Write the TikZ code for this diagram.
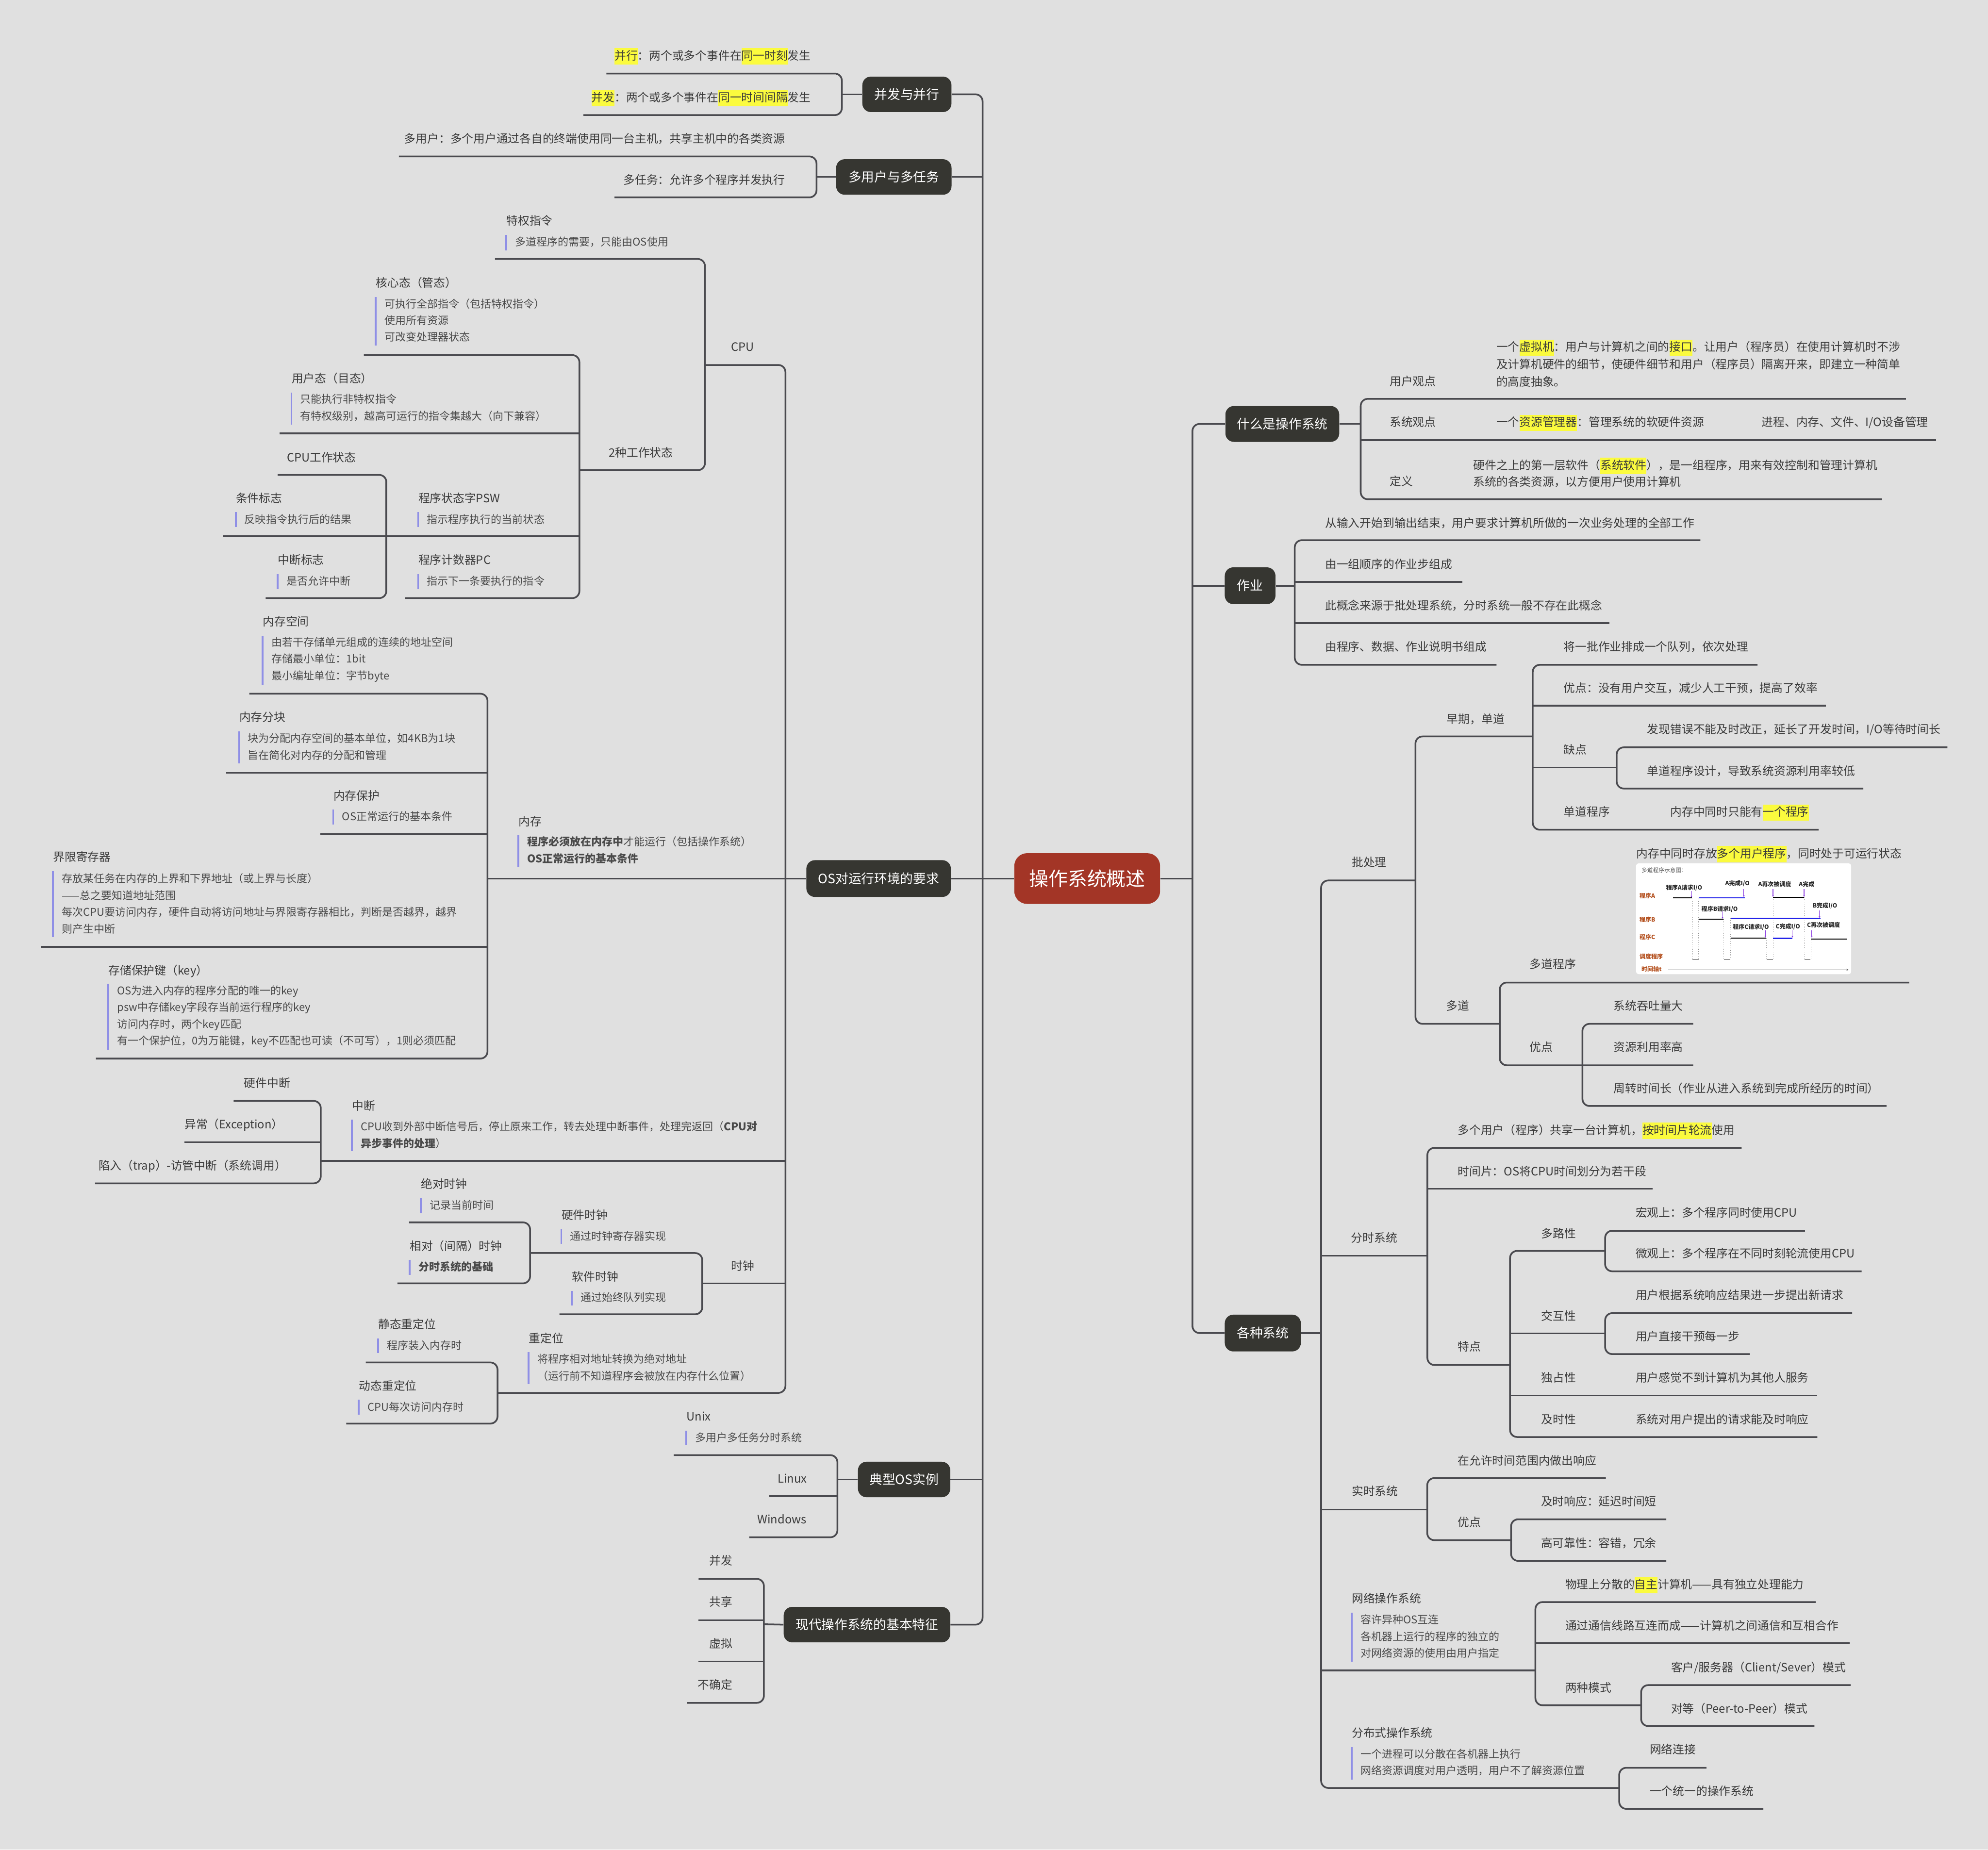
\documentclass[tikz,border=0pt]{standalone}
\usepackage{fontspec}
\setmainfont{Noto Sans CJK SC}
\usetikzlibrary{arrows.meta}
\definecolor{bg}{HTML}{E0E0E0}
\definecolor{lnc}{HTML}{4A4A4F}
\definecolor{txc}{HTML}{3A3A3A}
\definecolor{dsc}{HTML}{4A4A4A}
\definecolor{barc}{HTML}{8F8FE6}
\definecolor{boxc}{HTML}{363631}
\definecolor{rootc}{HTML}{A33526}
\definecolor{hly}{HTML}{FBFB3E}
\definecolor{brn}{HTML}{B4501E}
\definecolor{blu}{HTML}{2323E8}
\definecolor{pur}{HTML}{8A3BE0}
\newcommand\unitpx{0.03128cm}
\newcommand\hl[1]{{\setlength{\fboxsep}{0pt}\colorbox{hly}{\rule[-0.4em]{0pt}{1.4em}#1}}}
\newcommand\tn[4]{\node[t] (#1) at (#2,#3) {#4};}
\newcommand\tnE[4]{\node[t, anchor=east] (#1) at (#2,#3) {#4};}
\newcommand\ti[8]{\node[t] (#1) at (#2,#3) {#4};\draw[bar] (#2,#5) -- (#2,#6);\node[d] (#1d) at ({#2+6.8},#7) {#8};}
\newcommand\bx[6]{\node[box, minimum width={#4*\unitpx}, minimum height={#5*\unitpx}] (#1) at (#2,#3) {#6};}
\tikzset{
  ln/.style={draw=lnc, line width=1.2pt, rounded corners=5pt},
  t/.style={inner sep=0pt, anchor=west, text=txc, font=\fontsize{8.1}{10}\selectfont, text height=7.3pt, text depth=1.1pt},
  tm/.style={inner sep=0pt, anchor=west, text=txc, align=left, font=\fontsize{8.1}{12.3}\selectfont},
  tmb/.style={inner sep=0pt, anchor=west, text=txc, align=left, font=\fontsize{8.1}{11.8}\selectfont},
  d/.style={inner sep=0pt, anchor=west, align=left, text=dsc, font=\fontsize{7.5}{11.75}\selectfont},
  bar/.style={draw=barc, line width=1.3pt},
  box/.style={fill=boxc, rounded corners=6pt, text=white, font=\fontsize{9.1}{11}\selectfont, inner sep=0pt, text height=7.9pt, text depth=1.1pt},
  rootbox/.style={fill=rootc, rounded corners=9pt, text=white, font=\fontsize{13.6}{16}\selectfont, inner sep=0pt, text height=11.8pt, text depth=1.6pt},
  il/.style={inner sep=0pt, anchor=west, text=brn, font=\fontsize{4.1}{5}\selectfont\bfseries},
  ib/.style={inner sep=0pt, anchor=west, text=black!85, font=\fontsize{4.1}{5}\selectfont\bfseries},
  ig/.style={inner sep=0pt, anchor=west, text=black!70, font=\fontsize{4}{5}\selectfont},
  kl/.style={draw=black, line width=0.6pt},
  bl/.style={draw=blu, line width=0.85pt},
  dl/.style={draw=black!45, line width=0.25pt, densely dotted},
  pa/.style={draw=pur, line width=0.35pt, -{Stealth[length=1.3pt,width=1.2pt]}},
}
\begin{document}
\begin{tikzpicture}[x=0.03128cm,y=-0.03128cm]
\useasboundingbox (0,0) rectangle (1568,1459);
\fill[bg] (0,0) rectangle (1568,1459);

% ---------- root and main boxes ----------
\node[rootbox, minimum width={115*\unitpx}, minimum height={40*\unitpx}] (root) at (857.5,693) {操作系统概述};
\bx{bA}{715.3}{74.4}{70.3}{28}{并发与并行}
\bx{bB}{705}{139.6}{91}{28}{多用户与多任务}
\bx{bC}{693}{693}{114}{29}{OS对运行环境的要求}
\bx{bD}{713.1}{1167}{72.8}{28}{典型OS实例}
\bx{bE}{683.8}{1281.5}{131.4}{28}{现代操作系统的基本特征}
\bx{rW}{1011.4}{334.4}{89.8}{28.3}{什么是操作系统}
\bx{rJ}{986}{462}{40}{29}{作业}
\bx{rS}{996}{1051.5}{60}{29}{各种系统}

\draw[ln] (bA.east) -- (775,74.4) -- (775,1281.5) -- (bE.east);
\draw[ln] (bB.east) -- (775,139.6);
\draw[ln] (bC.east) -- (root.west);
\draw[ln] (bD.east) -- (775,1167);
\draw[ln] (rW.west) -- (940.5,334.4) -- (940.5,1051.5) -- (rS.west);
\draw[ln] (rJ.west) -- (940.5,462);
\draw[ln] (root.east) -- (940.5,693);

% ---------- 并发与并行 ----------
\tnE{a1}{639.7}{43.7}{\hl{并行}：两个或多个事件在\hl{同一时刻}发生}
\tnE{a2}{639.7}{76.7}{\hl{并发}：两个或多个事件在\hl{同一时间间隔}发生}
\draw[ln] (478.3,58) -- (664,58) -- (664,90.8) -- (460.2,90.8);
\draw[ln] (bA.west) -- (664,74.4);

% ---------- 多用户与多任务 ----------
\tnE{b1}{619.4}{109.2}{多用户：多个用户通过各自的终端使用同一台主机，共享主机中的各类资源}
\tnE{b2}{619.4}{141.7}{多任务：允许多个程序并发执行}
\draw[ln] (314.6,123.4) -- (644,123.4) -- (644,155.7) -- (484.7,155.7);
\draw[ln] (bB.west) -- (644,139.6);

% ---------- OS对运行环境的要求 ----------
\draw[ln] (556,287.9) -- (619.5,287.9) -- (619.5,1098.7) -- (392.4,1098.7);
\draw[ln] (384.5,693) -- (bC.west);
\draw[ln] (253,915.6) -- (619.5,915.6);
\draw[ln] (553.9,1012.3) -- (619.5,1012.3);

% CPU
\tnE{cpu}{595}{273.4}{CPU}
\draw[ln] (390.4,204.3) -- (556,204.3) -- (556,370.9) -- (457,370.9);
\ti{c1}{399.3}{174}{特权指令}{185.3}{197.6}{190.8}{多道程序的需要，只能由OS使用}
\tnE{c2}{531}{357}{2种工作状态}
\draw[ln] (287,280.1) -- (457,280.1) -- (457,471.8) -- (319.5,471.8);
\draw[ln] (220.5,341.9) -- (457,341.9);
\draw[ln] (176.1,422.9) -- (457,422.9);
\draw[ln] (219,374.6) -- (304.7,374.6) -- (304.7,471.8) -- (209.5,471.8);
\ti{c3}{296.4}{223}{核心态（管态）}{234.3}{272.4}{252.65}{可执行全部指令（包括特权指令）\\使用所有资源\\可改变处理器状态}
\ti{c4}{229.9}{298.5}{用户态（目态）}{309.7}{334.8}{321.45}{只能执行非特权指令\\有特权级别，越高可运行的指令集越大（向下兼容）}
\tnE{c5}{281}{360.7}{CPU工作状态}
\ti{c6}{185.9}{393}{条件标志}{404}{415.7}{409.6}{反映指令执行后的结果}
\ti{c7}{219}{441.6}{中断标志}{453}{464.7}{458.2}{是否允许中断}
\ti{c8}{329.8}{393}{程序状态字PSW}{404}{415.7}{409.6}{指示程序执行的当前状态}
\ti{c9}{329.8}{441.6}{程序计数器PC}{453}{464.7}{458.2}{指示下一条要执行的指令}

% 内存
\draw[ln] (196.6,547.2) -- (384.5,547.2) -- (384.5,835) -- (75.7,835);
\draw[ln] (178.4,609.6) -- (384.5,609.6);
\draw[ln] (252.8,658.1) -- (384.5,658.1);
\draw[ln] (32,746.8) -- (384.5,746.8);
\ti{m1}{207.1}{490.2}{内存空间}{501.5}{540.1}{520.25}{由若干存储单元组成的连续的地址空间\\存储最小单位：1bit\\最小编址单位：字节byte}
\ti{m2}{188.5}{565.4}{内存分块}{576.7}{602}{588.9}{块为分配内存空间的基本单位，如4KB为1块\\旨在简化对内存的分配和管理}
\ti{m3}{262.8}{627.6}{内存保护}{638.7}{650.5}{644.1}{OS正常运行的基本条件}
\ti{m4}{41.7}{675.8}{界限寄存器}{687.2}{739.2}{712.85}{存放某任务在内存的上界和下界地址（或上界与长度）\\——总之要知道地址范围\\每次CPU要访问内存，硬件自动将访问地址与界限寄存器相比，判断是否越界，越界\\则产生中断}
\ti{m5}{85.4}{765.2}{存储保护键（key）}{775.9}{827.9}{801.65}{OS为进入内存的程序分配的唯一的key\\psw中存储key字段存当前运行程序的key\\访问内存时，两个key匹配\\有一个保护位，0为万能键，key不匹配也可读（不可写），1则必须匹配}
\ti{m6}{408.9}{647.7}{内存}{658.8}{684.1}{670.65}{\textbf{程序必须放在内存中}才能运行（包括操作系统）\\\textbf{OS正常运行的基本条件}}

% 中断
\draw[ln] (184.3,868.4) -- (253,868.4) -- (253,933.4) -- (75,933.4);
\draw[ln] (145.4,900.9) -- (253,900.9);
\tnE{i1}{229.1}{854.1}{硬件中断}
\tnE{i2}{223.6}{886.8}{异常（Exception）}
\tnE{i3}{226}{919.3}{陷入（trap）-访管中断（系统调用）}
\ti{i0}{277.5}{872}{中断}{883.1}{908.2}{895.2}{CPU收到外部中断信号后，停止原来工作，转去处理中断事件，处理完返回（\textbf{CPU对}\\\textbf{异步事件的处理}）}

% 时钟
\draw[ln] (322.7,964.2) -- (418.1,964.2) -- (418.1,1012.3) -- (313.5,1012.3);
\draw[ln] (418.1,988.4) -- (553.9,988.4) -- (553.9,1036.7) -- (441.2,1036.7);
\ti{k1}{331.8}{933.9}{绝对时钟}{945}{956.9}{950.4}{记录当前时间}
\ti{k2}{323}{982.9}{相对（间隔）时钟}{993.6}{1005.5}{999}{\textbf{分时系统的基础}}
\ti{k3}{442.7}{958.3}{硬件时钟}{969.3}{981.1}{974.9}{通过时钟寄存器实现}
\ti{k4}{451.1}{1006.8}{软件时钟}{1018.3}{1029.9}{1023.3}{通过始终队列实现}
\tnE{k0}{595.3}{998.7}{时钟}

% 重定位
\draw[ln] (288.5,1074.7) -- (392.4,1074.7) -- (392.4,1122.9) -- (273.1,1122.9);
\ti{r1}{298.1}{1044.6}{静态重定位}{1055.6}{1067.3}{1061.1}{程序装入内存时}
\ti{r2}{283}{1093}{动态重定位}{1104.2}{1116}{1109.7}{CPU每次访问内存时}
\ti{r0}{417}{1055.6}{重定位}{1066.6}{1091.7}{1078.7}{将程序相对地址转换为绝对地址\\（运行前不知道程序会被放在内存什么位置）}

% ---------- 典型OS实例 ----------
\draw[ln] (531.4,1147.8) -- (660.5,1147.8) -- (660.5,1212.6) -- (590.9,1212.6);
\draw[ln] (606.8,1180.1) -- (660.5,1180.1);
\draw[ln] (bD.west) -- (660.5,1167);
\ti{o1}{541.3}{1117.3}{Unix}{1128.7}{1140.1}{1134}{多用户多任务分时系统}
\tnE{o2}{636.6}{1166.2}{Linux}
\tnE{o3}{636.3}{1198.4}{Windows}

% ---------- 现代操作系统的基本特征 ----------
\draw[ln] (551,1245.4) -- (602.5,1245.4) -- (602.5,1343.2) -- (541.8,1343.2);
\draw[ln] (551,1278) -- (602.5,1278);
\draw[ln] (551,1310.6) -- (602.5,1310.6);
\draw[ln] (bE.west) -- (602.5,1281.2);
\tnE{e1}{577.9}{1231}{并发}
\tnE{e2}{577.9}{1263.6}{共享}
\tnE{e3}{577.9}{1296.2}{虚拟}
\tnE{e4}{577.9}{1328.9}{不确定}

% ---------- 什么是操作系统 ----------
\draw[ln] (1503.2,314.6) -- (1073.2,314.6) -- (1073.2,393.8) -- (1484.4,393.8);
\draw[ln] (1073.2,347.2) -- (1527,347.2);
\draw[ln] (rW.east) -- (1073.2,334.4);
\tn{w1}{1095.9}{300.5}{用户观点}
\tn{w2}{1095.9}{333}{系统观点}
\tn{w3}{1095.9}{379.4}{定义}
\node[tm] (w1a) at (1180,286.65) {一个\hl{虚拟机}：用户与计算机之间的\hl{接口}。让用户（程序员）在使用计算机时不涉\\及计算机硬件的细节，使硬件细节和用户（程序员）隔离开来，即建立一种简单\\的高度抽象。};
\tn{w2a}{1180}{333}{一个\hl{资源管理器}：管理系统的软硬件资源}
\tn{w2b}{1389.3}{333}{进程、内存、文件、I/O设备管理}
\node[tmb] (w3a) at (1161.9,372.75) {硬件之上的第一层软件（\hl{系统软件}），是一组程序，用来有效控制和管理计算机\\系统的各类资源，以方便用户使用计算机};

% ---------- 作业 ----------
\draw[ln] (1341.1,426.1) -- (1021.2,426.1) -- (1021.2,524.4) -- (1180.3,524.4);
\draw[ln] (1021.2,459) -- (1153.4,459);
\draw[ln] (1021.2,491.6) -- (1269.4,491.6);
\draw[ln] (rJ.east) -- (1021.2,462);
\tn{j1}{1045}{412.3}{从输入开始到输出结束，用户要求计算机所做的一次业务处理的全部工作}
\tn{j2}{1045}{444.8}{由一组顺序的作业步组成}
\tn{j3}{1045}{477.6}{此概念来源于批处理系统，分时系统一般不存在此概念}
\tn{j4}{1045}{510.2}{由程序、数据、作业说明书组成}

% ---------- 各种系统 ----------
\draw[ln] (1116.4,694.5) -- (1042,694.5) -- (1042,1410.3) -- (1277.1,1410.3);
\draw[ln] (1042,990.6) -- (1125.8,990.6);
\draw[ln] (1042,1190.7) -- (1125.7,1190.7);
\draw[ln] (1042,1317.6) -- (1211,1317.6);
\draw[ln] (rS.east) -- (1042,1051.5);

% 批处理
\tn{s1}{1066}{680}{批处理}
\draw[ln] (1208.9,580.9) -- (1116.4,580.9) -- (1116.4,807.6) -- (1182.9,807.6);
\tn{s11}{1140.9}{567}{早期，单道}
\draw[ln] (1386.2,524.4) -- (1208.9,524.4) -- (1208.9,654.5) -- (1434.3,654.5);
\draw[ln] (1208.9,556.6) -- (1440,556.6);
\draw[ln] (1208.9,605.5) -- (1275.1,605.5);
\tn{s111}{1233.1}{510.2}{将一批作业排成一个队列，依次处理}
\tn{s112}{1233.1}{542.6}{优点：没有用户交互，减少人工干预，提高了效率}
\tn{s113}{1233.1}{591.3}{缺点}
\tn{s114}{1233.1}{640.2}{单道程序}
\tn{s1141}{1317.2}{640.2}{内存中同时只能有\hl{一个程序}}
\draw[ln] (1536,589.5) -- (1275.1,589.5) -- (1275.1,622) -- (1469.6,622);
\tn{s1131}{1299}{575.2}{发现错误不能及时改正，延长了开发时间，I/O等待时间长}
\tn{s1132}{1299}{608.1}{单道程序设计，导致系统资源利用率较低}

\tn{s12}{1140.4}{793.4}{多道}
\draw[ln] (1505.8,775) -- (1182.9,775) -- (1182.9,840.3) -- (1335.5,840.3);
\tn{s121}{1206.3}{760.6}{多道程序}
\tn{s122}{1206.3}{825.9}{优点}
\draw[ln] (1335.5,807.6) -- (1248.1,807.6) -- (1248.1,872.4) -- (1487.9,872.4);
\tn{s1221}{1272.6}{793.4}{系统吞吐量大}
\tn{s1222}{1272.6}{825.9}{资源利用率高}
\tn{s1223}{1272.6}{858.5}{周转时间长（作业从进入系统到完成所经历的时间）}

% 多道程序 caption and picture
\tn{s1211}{1290.4}{673}{内存中同时存放\hl{多个用户程序}，同时处于可运行状态}
\node[fill=white, rounded corners=2pt, inner sep=0pt, minimum width={169.7*\unitpx}, minimum height={87.4*\unitpx}] (img) at (1375.25,724.7) {};
\node[ig] (p0) at (1294.5,686.3) {多道程序示意图：};
\node[il] (pA) at (1292.9,706.8) {程序A};
\node[il] (pB) at (1292.9,725.2) {程序B};
\node[il] (pC) at (1292.9,739.1) {程序C};
\node[il] (pS) at (1292.9,754.3) {调度程序};
\node[il] (pT) at (1294.5,764.6) {时间轴t};
\node[ib] (q1) at (1313.9,700.2) {程序A请求I/O};
\node[ib] (q2) at (1360.5,697) {A完成I/O};
\node[ib] (q3) at (1386.5,697.5) {A再次被调度};
\node[ib] (q4) at (1418.6,697.5) {A完成};
\node[ib] (q5) at (1341.8,717) {程序B请求I/O};
\node[ib] (q6) at (1429.5,714.3) {B完成I/O};
\node[ib] (q7) at (1366.5,731.3) {程序C请求I/O};
\node[ib] (q8) at (1400.3,731.1) {C完成I/O};
\node[ib] (q9) at (1425,729.8) {C再次被调度};
\draw[dl] (1334.8,708.2) -- (1334.8,756.6);
\draw[dl] (1339.7,708.2) -- (1339.7,756.6);
\draw[dl] (1359.3,725) -- (1359.3,756.6);
\draw[dl] (1365,724.4) -- (1365,756.6);
\draw[dl] (1393.2,740.1) -- (1393.2,756.6);
\draw[dl] (1398.4,707.8) -- (1398.4,756.6);
\draw[dl] (1423.2,707.8) -- (1423.2,756.6);
\draw[dl] (1428.3,740.4) -- (1428.3,756.6);
\draw[kl] (1319.5,708.2) -- (1334.5,708.2);
\draw[kl] (1398.4,707.8) -- (1422.9,707.8);
\draw[kl] (1340.2,725) -- (1359.2,725);
\draw[kl] (1365.3,740.1) -- (1393.2,740.1);
\draw[kl] (1428.4,740.7) -- (1456.4,740.7);
\draw[kl] (1334.8,756.6) -- (1339.7,756.6);
\draw[kl] (1359.9,756.6) -- (1364.8,756.6);
\draw[kl] (1393.5,756.6) -- (1398.4,756.6);
\draw[kl] (1423.4,756.6) -- (1428,756.6);
\draw[bl] (1340,708.2) -- (1376.1,708.2);
\draw[bl] (1365.3,724.4) -- (1436,724.4);
\draw[bl] (1398.4,740.1) -- (1413.7,740.1);
\draw[pa] (1334.1,702.8) -- (1334.1,708);
\draw[pa] (1375.4,701.4) -- (1375.4,707.5);
\draw[pa] (1398.4,701.4) -- (1398.4,707.5);
\draw[pa] (1422.9,701.4) -- (1422.9,707.5);
\draw[pa] (1358.6,718.8) -- (1358.6,724.7);
\draw[pa] (1435.1,718.3) -- (1435.1,724.1);
\draw[pa] (1392.3,733.7) -- (1392.3,739.6);
\draw[pa] (1413.7,733.7) -- (1413.7,739.6);
\draw[pa] (1429,733.7) -- (1429,739.6);
\coordinate (ta) at (1315.7,765);
\coordinate (tb) at (1458,765);
\draw[draw=black!75, line width=0.35pt, -{Stealth[length=1.5pt,width=1.3pt]}] (ta) -- (tb);

% 分时系统
\tn{s2}{1065.4}{976.4}{分时系统}
\draw[ln] (1373.7,905.4) -- (1125.8,905.4) -- (1125.8,1076.7) -- (1191,1076.7);
\draw[ln] (1125.8,937.7) -- (1303.5,937.7);
\tn{s21}{1149.6}{891.2}{多个用户（程序）共享一台计算机，\hl{按时间片轮流}使用}
\tn{s22}{1149.6}{923.8}{时间片：OS将CPU时间划分为若干段}
\tn{s23}{1149.6}{1062}{特点}
\draw[ln] (1266,986.7) -- (1191,986.7) -- (1191,1133.5) -- (1433.4,1133.5);
\draw[ln] (1191,1051.7) -- (1266,1051.7);
\draw[ln] (1191,1100.7) -- (1433.4,1100.7);
\tn{s231}{1215.5}{972.7}{多路性}
\tn{s232}{1215.5}{1038.1}{交互性}
\tn{s233}{1215.5}{1086.5}{独占性}
\tn{s234}{1215.5}{1119.5}{及时性}
\draw[ln] (1423.6,970.8) -- (1266,970.8) -- (1266,1002.8) -- (1468.3,1002.8);
\tn{s2311}{1289.9}{956.3}{宏观上：多个程序同时使用CPU}
\tn{s2312}{1289.9}{988.6}{微观上：多个程序在不同时刻轮流使用CPU}
\draw[ln] (1460.8,1035.8) -- (1266,1035.8) -- (1266,1068.1) -- (1380.2,1068.1);
\tn{s2321}{1289.9}{1021.6}{用户根据系统响应结果进一步提出新请求}
\tn{s2322}{1289.9}{1054.2}{用户直接干预每一步}
\tn{s2331}{1289.9}{1086.5}{用户感觉不到计算机为其他人服务}
\tn{s2341}{1289.9}{1119.5}{系统对用户提出的请求能及时响应}

% 实时系统
\tn{s3}{1066}{1176.2}{实时系统}
\draw[ln] (1266.6,1165.9) -- (1125.7,1165.9) -- (1125.7,1214.9) -- (1191.8,1214.9);
\tn{s31}{1149.6}{1152}{在允许时间范围内做出响应}
\tn{s32}{1149.6}{1200.8}{优点}
\draw[ln] (1314.2,1198.4) -- (1191.8,1198.4) -- (1191.8,1231.2) -- (1314.2,1231.2);
\tn{s321}{1215.2}{1184.3}{及时响应：延迟时间短}
\tn{s322}{1215.2}{1217.2}{高可靠性：容错，冗余}

% 网络操作系统
\ti{s4}{1066}{1260.8}{网络操作系统}{1272}{1310.8}{1290.8}{容许异种OS互连\\各机器上运行的程序的独立的\\对网络资源的使用由用户指定}
\draw[ln] (1432,1263.7) -- (1211,1263.7) -- (1211,1345.1) -- (1294.4,1345.1);
\draw[ln] (1211,1296.2) -- (1458.7,1296.2);
\tn{s41}{1234.4}{1249.8}{物理上分散的\hl{自主}计算机——具有独立处理能力}
\tn{s42}{1234.4}{1282.1}{通过通信线路互连而成——计算机之间通信和互相合作}
\tn{s43}{1234.4}{1331.1}{两种模式}
\draw[ln] (1459.6,1329.2) -- (1294.4,1329.2) -- (1294.4,1361.5) -- (1431.1,1361.5);
\tn{s431}{1317.8}{1315}{客户/服务器（Client/Sever）模式}
\tn{s432}{1317.8}{1347.6}{对等（Peer-to-Peer）模式}

% 分布式操作系统
\ti{s5}{1066}{1366.9}{分布式操作系统}{1378}{1403.7}{1390.1}{一个进程可以分散在各机器上执行\\网络资源调度对用户透明，用户不了解资源位置}
\draw[ln] (1345.9,1394.4) -- (1277.1,1394.4) -- (1277.1,1426.8) -- (1390.8,1426.8);
\tn{s51}{1301}{1379.9}{网络连接}
\tn{s52}{1301}{1412.8}{一个统一的操作系统}
\end{tikzpicture}
\end{document}
